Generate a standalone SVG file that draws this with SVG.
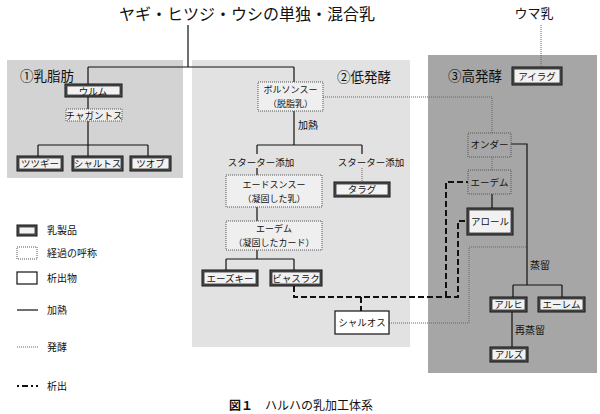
<svg xmlns="http://www.w3.org/2000/svg" width="600" height="414" viewBox="0 0 600 414">
<defs>
<style>
text{font-family:"Noto Sans CJK JP","Noto Sans",sans-serif;fill:#111}
.t{font-size:9.5px;text-anchor:middle}
.t2{font-size:9px;text-anchor:middle}
.l{font-size:10px}
.sec{font-size:13.5px}
.ln{fill:none;stroke:#111;stroke-width:1.2}
.dt{fill:none;stroke:#666;stroke-width:1;stroke-dasharray:1 1}
.ds{fill:none;stroke:#111;stroke-width:2;stroke-dasharray:6 3}
.po{fill:#5a5a5a;stroke:#111;stroke-width:1}
.pi{fill:#f2f2f2;stroke:#111;stroke-width:0.7}
.pr{fill:none;stroke:#555;stroke-width:1;stroke-dasharray:1 1}
.pr2{fill:#efefef;stroke:#555;stroke-width:1;stroke-dasharray:1 1}
.px{fill:#fff;stroke:#111;stroke-width:1.2}
</style>
</defs>
<rect width="600" height="414" fill="#fff"/>
<!-- panels -->
<rect x="7" y="60" width="176" height="118" fill="#d3d3d3"/>
<rect x="192" y="60" width="218" height="287" fill="#e2e2e2"/>
<rect x="428" y="55" width="169" height="318" fill="#a6a6a6"/>

<text x="247" y="20" style="font-size:16px" text-anchor="middle">ヤギ・ヒツジ・ウシの単独・混合乳</text>
<text x="534" y="18" style="font-size:13px" text-anchor="middle">ウマ乳</text>
<text x="20" y="81" class="sec">①乳脂肪</text>
<text x="337" y="82" class="sec">②低発酵</text>
<text x="448" y="81" class="sec">③高発酵</text>

<g id="connectors">
<!-- heating (solid) -->
<path class="ln" d="M188 25V67M88 67H294M88 67V84M88 97V145M38 145H148M38 145V156M88 145V156M148 145V156"/>
<path class="ln" d="M294 67V82M294 111V145M257 145H362M257 145V154M362 145V154M257 168V175M257 207V221M257 250V259M226 259H294M226 259V270M294 259V270"/>
<path class="ln" d="M511 144H527V285M513 285H562M513 285V297M562 285V297M492 194V208M512 312V347"/>
<!-- fermentation (dotted) -->
<path class="dt" d="M541 25V67M323 97H492V133M492 157V170M362 168V183M389 323H469V247H527"/>
<!-- precipitation (dashed) -->
<path class="ds" d="M294 286V297H458V221H467M446 297V182H468M361 297V311"/>
</g>

<text x="298" y="129" class="l">加熱</text>
<text x="261" y="166" class="t">スターター添加</text>
<text x="371" y="166" class="t">スターター添加</text>
<text x="530" y="269" class="l">蒸留</text>
<text x="515" y="334" class="l">再蒸留</text>

<g id="n-urumu"><rect class="po" x="65" y="84" width="57" height="13"/><rect class="pi" x="67" y="86" width="53" height="9"/><text class="t" x="93" y="94.5">ウルム</text></g>
<g id="n-chagantos"><rect class="pr2" x="66" y="109" width="56" height="12"/><text class="t" x="94" y="118.5">チャガントス</text></g>
<g id="n-tsutsugi"><rect class="po" x="17" y="156" width="46" height="15"/><rect class="pi" x="19" y="158" width="42" height="11"/><text class="t" x="40" y="167">ツツギー</text></g>
<g id="n-sharutos"><rect class="po" x="72" y="156" width="51" height="15"/><rect class="pi" x="74" y="158" width="47" height="11"/><text class="t" x="97.5" y="167">シャルトス</text></g>
<g id="n-tsuobu"><rect class="po" x="130" y="156" width="41" height="15"/><rect class="pi" x="132" y="158" width="37" height="11"/><text class="t" x="150.5" y="167">ツオブ</text></g>

<g id="n-borsonsu"><rect class="pr2" x="258" y="82" width="65" height="29"/><text class="t2" x="290.5" y="93">ボルソンスー</text><text class="t2" x="290.5" y="107">（脱脂乳）</text></g>
<g id="n-eedsunsu"><rect class="pr2" x="226" y="175" width="96" height="32"/><text class="t2" x="274" y="188">エードスンスー</text><text class="t2" x="274" y="202">（凝固した乳）</text></g>
<g id="n-taragu"><rect class="po" x="334" y="182" width="56" height="15"/><rect class="pi" x="336" y="184" width="52" height="11"/><text class="t" x="362" y="193">タラグ</text></g>
<g id="n-eedem"><rect class="pr2" x="226" y="221" width="96" height="29"/><text class="t2" x="274" y="232">エーデム</text><text class="t2" x="274" y="246">（凝固したカード）</text></g>
<g id="n-eezki"><rect class="po" x="202" y="270" width="56" height="16"/><rect class="pi" x="204" y="272" width="52" height="12"/><text class="t" x="230" y="281.5">エーズキー</text></g>
<g id="n-byaslak"><rect class="po" x="270" y="270" width="52" height="16"/><rect class="pi" x="272" y="272" width="48" height="12"/><text class="t" x="296" y="281.5">ビャスラク</text></g>
<g id="n-sharuos"><rect class="px" x="335" y="311" width="54" height="23"/><text class="t" x="362" y="326">シャルオス</text></g>

<g id="n-airag"><rect class="po" x="512" y="67" width="50" height="18"/><rect class="pi" x="514" y="69" width="46" height="14"/><text class="t" x="537" y="79.5">アイラグ</text></g>
<g id="n-ondar"><rect class="pr" x="468" y="133" width="43" height="24"/><text class="t" x="489.5" y="148">オンダー</text></g>
<g id="n-eedem2"><rect class="pr" x="468" y="170" width="43" height="24"/><text class="t" x="489.5" y="185.5">エーデム</text></g>
<g id="n-arool"><rect class="po" x="467" y="208" width="46" height="27"/><rect class="pi" x="469" y="210" width="42" height="23"/><text class="t" x="490" y="225">アロール</text></g>
<g id="n-aruhi"><rect class="po" x="490" y="297" width="37" height="15"/><rect class="pi" x="492" y="299" width="33" height="11"/><text class="t" x="508.5" y="308">アルヒ</text></g>
<g id="n-eerem"><rect class="po" x="538" y="297" width="47" height="15"/><rect class="pi" x="540" y="299" width="43" height="11"/><text class="t" x="561.5" y="308">エーレム</text></g>
<g id="n-aruz"><rect class="po" x="490" y="347" width="38" height="15"/><rect class="pi" x="492" y="349" width="34" height="11"/><text class="t" x="509" y="358">アルズ</text></g>

<g id="legend">
<rect class="po" x="17" y="225" width="20" height="11"/><rect class="pi" x="19" y="227" width="16" height="7"/>
<text x="47" y="234" class="l">乳製品</text>
<rect x="17" y="247" width="20" height="12" fill="#fff" stroke="#555" stroke-width="1" stroke-dasharray="1 1"/>
<text x="47" y="257" class="l">経過の呼称</text>
<rect class="px" x="17" y="272" width="20" height="12"/>
<text x="47" y="282" class="l">析出物</text>
<path class="ln" d="M17 310H38"/>
<text x="47" y="314" class="l">加熱</text>
<path class="dt" d="M17 347H38"/>
<text x="47" y="351" class="l">発酵</text>
<path class="ds" d="M17 386H38" style="stroke-dasharray:2 3 6 3"/>
<text x="47" y="390" class="l">析出</text>
</g>

<text x="301" y="410" style="font-size:12px" text-anchor="middle"><tspan font-weight="bold">図１</tspan>　ハルハの乳加工体系</text>
</svg>
